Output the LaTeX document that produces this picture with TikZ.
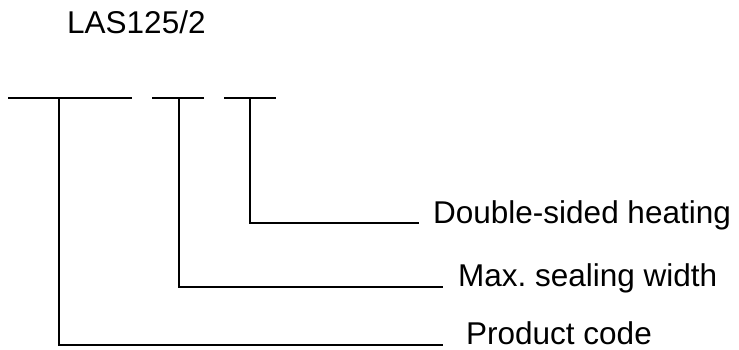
\documentclass[tikz,border=0pt]{standalone}
\usepackage{fontspec}
\setmainfont{Liberation Sans}
\frenchspacing
\begin{document}
\begin{tikzpicture}[x=1pt,y=-1pt,
  lbl/.style={anchor=base west,inner sep=0pt,font=\fontsize{31.5}{36}\selectfont},
  ln/.style={line width=1.3pt,line cap=rect}]
\useasboundingbox (0,0) rectangle (739,349);
\node[lbl] (code) at (67,33) {LAS125/2};
% bars
\coordinate (a1) at (9,98);   \coordinate (a2) at (131,98);
\coordinate (b1) at (153,98); \coordinate (b2) at (203,98);
\coordinate (c1) at (225,98); \coordinate (c2) at (275,98);
\draw[ln] (a1) -- (a2);
\draw[ln] (b1) -- (b2);
\draw[ln] (c1) -- (c2);
\coordinate (va) at (59,98);
\coordinate (vb) at (179,98);
\coordinate (vc) at (250,98);
% labels
\node[lbl] (heat) at (433,223) {Double-sided heating};
\node[lbl] (width) at (458,286) {Max.\ sealing width};
\node[lbl] (prod) at (466,344) {Product code};
\coordinate (ec) at (418,223);
\coordinate (eb) at (442,287);
\coordinate (ea) at (442,345);
\draw[ln] (vc) |- (ec);
\draw[ln] (vb) |- (eb);
\draw[ln] (va) |- (ea);
\end{tikzpicture}
\end{document}
